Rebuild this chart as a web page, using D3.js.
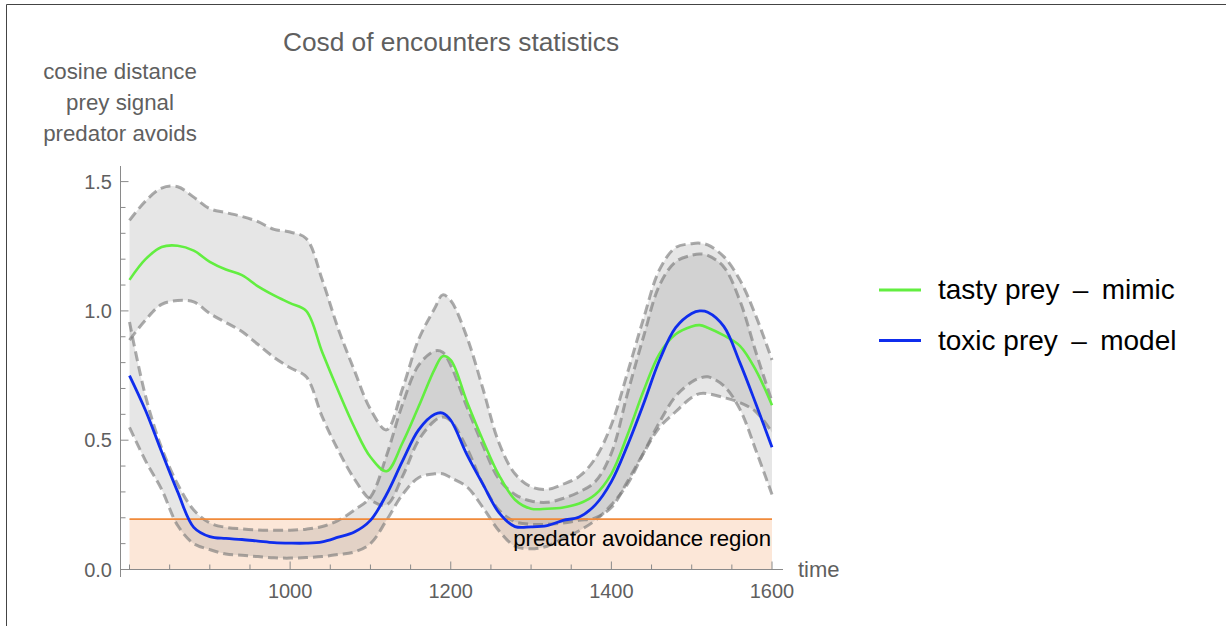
<!DOCTYPE html>
<html><head><meta charset="utf-8">
<script src="https://cdn.jsdelivr.net/npm/d3@7"></script>
<style>html,body{margin:0;padding:0;background:#fff}svg{display:block}text{font-family:"Liberation Sans",Arial,Helvetica,sans-serif}</style>
</head><body>
<svg id="chart" width="1226" height="626"></svg>
<script>
// ---- data ----
const time = [800,820,840,860,880,900,920,940,960,980,1000,1020,1040,1060,1080,1100,1120,1140,1160,1180,1190,1200,1220,1240,1260,1280,1300,1320,1340,1360,1380,1400,1420,1440,1460,1480,1500,1510,1520,1540,1560,1580,1600];
const tastyMean  = [1.12,1.20,1.247,1.252,1.233,1.19,1.16,1.138,1.095,1.06,1.03,1.0,0.84,0.69,0.55,0.435,0.38,0.49,0.63,0.775,0.825,0.81,0.65,0.50,0.365,0.27,0.235,0.235,0.24,0.255,0.29,0.37,0.52,0.69,0.835,0.91,0.94,0.945,0.935,0.905,0.865,0.77,0.635];
const tastyUpper = [1.35,1.425,1.475,1.48,1.44,1.395,1.38,1.365,1.345,1.315,1.305,1.28,1.12,0.93,0.77,0.62,0.54,0.70,0.89,1.01,1.062,1.04,0.90,0.70,0.49,0.37,0.32,0.31,0.33,0.36,0.43,0.56,0.76,0.97,1.16,1.245,1.26,1.262,1.255,1.21,1.12,0.98,0.81];
const tastyLower = [0.887,0.965,1.025,1.04,1.035,0.99,0.955,0.92,0.87,0.82,0.78,0.745,0.59,0.46,0.35,0.27,0.25,0.36,0.50,0.575,0.59,0.575,0.47,0.33,0.23,0.185,0.175,0.175,0.18,0.19,0.20,0.24,0.34,0.45,0.55,0.61,0.665,0.68,0.68,0.665,0.645,0.61,0.53];
const toxicMean  = [0.75,0.615,0.455,0.30,0.163,0.127,0.12,0.116,0.11,0.104,0.102,0.102,0.107,0.125,0.145,0.19,0.29,0.42,0.54,0.60,0.605,0.577,0.445,0.33,0.22,0.166,0.165,0.17,0.19,0.203,0.25,0.34,0.48,0.64,0.81,0.935,0.99,1.0,0.995,0.94,0.80,0.64,0.473];
const toxicUpper = [0.957,0.67,0.47,0.33,0.23,0.18,0.163,0.157,0.153,0.152,0.152,0.156,0.166,0.19,0.23,0.28,0.44,0.64,0.79,0.845,0.84,0.79,0.63,0.48,0.35,0.29,0.265,0.26,0.275,0.30,0.34,0.45,0.68,0.90,1.10,1.19,1.215,1.22,1.215,1.17,1.04,0.84,0.65];
const toxicLower = [0.55,0.42,0.31,0.17,0.10,0.077,0.06,0.055,0.05,0.045,0.044,0.046,0.05,0.058,0.068,0.10,0.19,0.29,0.355,0.37,0.37,0.355,0.32,0.24,0.15,0.09,0.08,0.09,0.12,0.15,0.19,0.25,0.33,0.45,0.57,0.67,0.725,0.74,0.745,0.71,0.62,0.46,0.29];
const avoidThreshold = 0.195;
const avoidRange = [800, 1600];
const xMajorTicks = [1000,1200,1400,1600];
const xMinorTicks = [800,850,900,950,1000,1050,1100,1150,1200,1250,1300,1350,1400,1450,1500,1550,1600];
const yMajorTicks = [0,0.5,1.0,1.5];
const yMinorTicks = [0.1,0.2,0.3,0.4,0.6,0.7,0.8,0.9,1.1,1.2,1.3,1.4];
const seriesNames = ["tasty prey \u2009\u2013\u2009 mimic","toxic prey \u2009\u2013\u2009 model"];
const seriesColors = ["#62ee40","#0f2ded"];
const titleText = "Cosd of encounters statistics";
const yLabelLines = ["cosine distance","prey signal","predator avoids"];
const xLabelText = "time";
const regionText = "predator avoidance region";

// ---- layout ----
const svg = d3.select("#chart");
const x = d3.scaleLinear().domain([800,1600]).range([129.5,772]);
const y = d3.scaleLinear().domain([0,1.5]).range([569.5,181.6]);
const gray = "#5f5f5f";
const axisColor = "#8a8a8a";

svg.append("rect").attr("width",1226).attr("height",626).attr("fill","#fff");
// frame
svg.append("line").attr("x1",6.5).attr("x2",1226).attr("y1",4.5).attr("y2",4.5).attr("stroke","#444").attr("stroke-width",1);
svg.append("line").attr("x1",6.5).attr("x2",6.5).attr("y1",4.5).attr("y2",626).attr("stroke","#444").attr("stroke-width",1);

// avoidance region
svg.append("rect").attr("x",x(avoidRange[0])).attr("width",x(avoidRange[1])-x(avoidRange[0]))
  .attr("y",y(avoidThreshold)).attr("height",y(0)-y(avoidThreshold))
  .attr("fill","rgb(240,136,60)").attr("fill-opacity",0.2);

const idx = d3.range(time.length);
const curve = d3.curveCatmullRom.alpha(0.5);
function band(up, lo){
  return d3.area().x(i=>x(time[i])).y0(i=>y(lo[i])).y1(i=>y(up[i])).curve(curve)(idx);
}
function line(vals){
  return d3.line().x(i=>x(time[i])).y(i=>y(vals[i])).curve(curve)(idx);
}
[[tastyUpper,tastyLower],[toxicUpper,toxicLower]].forEach(([u,l])=>{
  svg.append("path").attr("d",band(u,l)).attr("fill","#808080").attr("fill-opacity",0.2);
});
[tastyUpper,tastyLower,toxicUpper,toxicLower].forEach(v=>{
  svg.append("path").attr("d",line(v)).attr("fill","none").attr("stroke","#787878")
    .attr("stroke-opacity",0.62).attr("stroke-width",3).attr("stroke-dasharray","10,5");
});
// threshold line
svg.append("line").attr("x1",x(avoidRange[0])).attr("x2",x(avoidRange[1]))
  .attr("y1",y(avoidThreshold)).attr("y2",y(avoidThreshold))
  .attr("stroke","#f08a3a").attr("stroke-width",1.8);

svg.append("path").attr("d",line(tastyMean)).attr("fill","none").attr("stroke",seriesColors[0]).attr("stroke-width",2.6);
svg.append("path").attr("d",line(toxicMean)).attr("fill","none").attr("stroke",seriesColors[1]).attr("stroke-width",2.8);

// axes
const axX = 120.5, axY = y(0);
svg.append("line").attr("x1",axX).attr("x2",axX).attr("y1",166).attr("y2",577).attr("stroke",axisColor).attr("stroke-width",1);
svg.append("line").attr("x1",axX).attr("x2",783).attr("y1",axY).attr("y2",axY).attr("stroke",axisColor).attr("stroke-width",1);
xMinorTicks.forEach(t=>{
  const major = xMajorTicks.includes(t);
  svg.append("line").attr("x1",x(t)).attr("x2",x(t)).attr("y1",axY).attr("y2",axY-(major?8:5)).attr("stroke",axisColor);
});
xMajorTicks.forEach(t=>{
  svg.append("text").attr("x",x(t)).attr("y",598).attr("text-anchor","middle").attr("font-size",20).attr("fill",gray).text(String(t));
});
yMajorTicks.forEach(v=>{
  svg.append("line").attr("x1",axX).attr("x2",axX+8).attr("y1",y(v)).attr("y2",y(v)).attr("stroke",axisColor);
  svg.append("text").attr("x",112).attr("y",y(v)+7).attr("text-anchor","end").attr("font-size",20).attr("fill",gray).text(v.toFixed(1));
});
yMinorTicks.forEach(v=>{
  svg.append("line").attr("x1",axX).attr("x2",axX+5).attr("y1",y(v)).attr("y2",y(v)).attr("stroke",axisColor);
});
svg.append("text").attr("x",798).attr("y",577).attr("font-size",22).attr("fill",gray).text(xLabelText);

// region label
svg.append("text").attr("x",771).attr("y",546).attr("text-anchor","end").attr("font-size",22.2).attr("fill","#000").text(regionText);

// title & y label
svg.append("text").attr("x",451).attr("y",51).attr("text-anchor","middle").attr("font-size",26.3).attr("fill",gray).text(titleText);
yLabelLines.forEach((s,i)=>{
  svg.append("text").attr("x",120).attr("y",79+i*31).attr("text-anchor","middle").attr("font-size",22.3).attr("fill",gray).text(s);
});

// legend
seriesNames.forEach((s,i)=>{
  const ly = 290 + i*50.5;
  svg.append("line").attr("x1",879).attr("x2",921).attr("y1",ly).attr("y2",ly).attr("stroke",seriesColors[i]).attr("stroke-width",3);
  svg.append("text").attr("x",938).attr("y",ly+9).attr("font-size",28).attr("fill","#000").text(s);
});
</script>
</body></html>
